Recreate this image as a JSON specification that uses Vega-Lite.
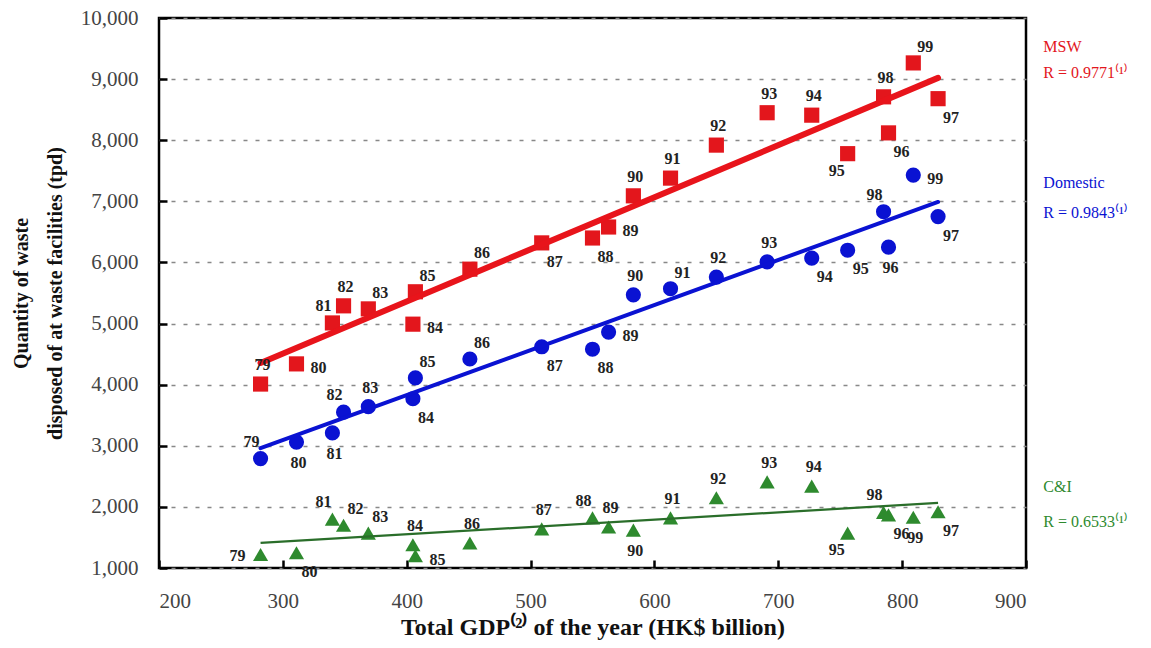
{
  "$schema": "https://vega.github.io/schema/vega-lite/v6.json",
  "width": 867,
  "height": 550,
  "autosize": "none",
  "padding": {"left": 159, "top": 18, "right": 125, "bottom": 80},
  "background": "white",
  "config": {
    "view": {"stroke": "black", "strokeWidth": 2.5},
    "font": "Liberation Serif"
  },
  "datasets": {
    "pts": [
      {"year": "79", "series": "MSW", "gdp": 282, "q": 4010, "pos": "t"},
      {"year": "80", "series": "MSW", "gdp": 311, "q": 4340, "pos": "r"},
      {"year": "81", "series": "MSW", "gdp": 340, "q": 5010, "pos": "tl"},
      {"year": "82", "series": "MSW", "gdp": 349, "q": 5290, "pos": "t"},
      {"year": "83", "series": "MSW", "gdp": 369, "q": 5240, "pos": "tr"},
      {"year": "84", "series": "MSW", "gdp": 405, "q": 4990, "pos": "r"},
      {"year": "85", "series": "MSW", "gdp": 407, "q": 5520, "pos": "tr"},
      {"year": "86", "series": "MSW", "gdp": 451, "q": 5890, "pos": "tr"},
      {"year": "87", "series": "MSW", "gdp": 509, "q": 6320, "pos": "br"},
      {"year": "88", "series": "MSW", "gdp": 550, "q": 6400, "pos": "br"},
      {"year": "89", "series": "MSW", "gdp": 563, "q": 6580, "pos": "r"},
      {"year": "90", "series": "MSW", "gdp": 583, "q": 7090, "pos": "t"},
      {"year": "91", "series": "MSW", "gdp": 613, "q": 7380, "pos": "t"},
      {"year": "92", "series": "MSW", "gdp": 650, "q": 7920, "pos": "t"},
      {"year": "93", "series": "MSW", "gdp": 691, "q": 8450, "pos": "t"},
      {"year": "94", "series": "MSW", "gdp": 727, "q": 8410, "pos": "t"},
      {"year": "95", "series": "MSW", "gdp": 756, "q": 7780, "pos": "bl"},
      {"year": "96", "series": "MSW", "gdp": 789, "q": 8120, "pos": "br"},
      {"year": "97", "series": "MSW", "gdp": 829, "q": 8680, "pos": "br"},
      {"year": "98", "series": "MSW", "gdp": 785, "q": 8710, "pos": "t"},
      {"year": "99", "series": "MSW", "gdp": 809, "q": 9265, "pos": "tr"},
      {"year": "79", "series": "Domestic", "gdp": 282, "q": 2790, "pos": "tl"},
      {"year": "80", "series": "Domestic", "gdp": 311, "q": 3060, "pos": "b"},
      {"year": "81", "series": "Domestic", "gdp": 340, "q": 3210, "pos": "b"},
      {"year": "82", "series": "Domestic", "gdp": 349, "q": 3550, "pos": "tl"},
      {"year": "83", "series": "Domestic", "gdp": 369, "q": 3640, "pos": "t"},
      {"year": "84", "series": "Domestic", "gdp": 405, "q": 3770, "pos": "br"},
      {"year": "85", "series": "Domestic", "gdp": 407, "q": 4110, "pos": "tr"},
      {"year": "86", "series": "Domestic", "gdp": 451, "q": 4420, "pos": "tr"},
      {"year": "87", "series": "Domestic", "gdp": 509, "q": 4620, "pos": "br"},
      {"year": "88", "series": "Domestic", "gdp": 550, "q": 4580, "pos": "br"},
      {"year": "89", "series": "Domestic", "gdp": 563, "q": 4860, "pos": "r"},
      {"year": "90", "series": "Domestic", "gdp": 583, "q": 5470, "pos": "t"},
      {"year": "91", "series": "Domestic", "gdp": 613, "q": 5570, "pos": "tr"},
      {"year": "92", "series": "Domestic", "gdp": 650, "q": 5760, "pos": "t"},
      {"year": "93", "series": "Domestic", "gdp": 691, "q": 6010, "pos": "t"},
      {"year": "94", "series": "Domestic", "gdp": 727, "q": 6070, "pos": "br"},
      {"year": "95", "series": "Domestic", "gdp": 756, "q": 6200, "pos": "br"},
      {"year": "96", "series": "Domestic", "gdp": 789, "q": 6250, "pos": "b"},
      {"year": "97", "series": "Domestic", "gdp": 829, "q": 6750, "pos": "br"},
      {"year": "98", "series": "Domestic", "gdp": 785, "q": 6830, "pos": "tl"},
      {"year": "99", "series": "Domestic", "gdp": 809, "q": 7430, "pos": "r"},
      {"year": "79", "series": "C&I", "gdp": 282, "q": 1220, "pos": "l"},
      {"year": "80", "series": "C&I", "gdp": 311, "q": 1250, "pos": "br"},
      {"year": "81", "series": "C&I", "gdp": 340, "q": 1800, "pos": "tl"},
      {"year": "82", "series": "C&I", "gdp": 349, "q": 1700, "pos": "tr"},
      {"year": "83", "series": "C&I", "gdp": 369, "q": 1570, "pos": "tr"},
      {"year": "84", "series": "C&I", "gdp": 405, "q": 1380, "pos": "t"},
      {"year": "85", "series": "C&I", "gdp": 407, "q": 1200, "pos": "r"},
      {"year": "86", "series": "C&I", "gdp": 451, "q": 1410, "pos": "t"},
      {"year": "87", "series": "C&I", "gdp": 509, "q": 1640, "pos": "t"},
      {"year": "88", "series": "C&I", "gdp": 550, "q": 1820, "pos": "tl"},
      {"year": "89", "series": "C&I", "gdp": 563, "q": 1670, "pos": "t"},
      {"year": "90", "series": "C&I", "gdp": 583, "q": 1620, "pos": "b"},
      {"year": "91", "series": "C&I", "gdp": 613, "q": 1820, "pos": "t"},
      {"year": "92", "series": "C&I", "gdp": 650, "q": 2150, "pos": "t"},
      {"year": "93", "series": "C&I", "gdp": 691, "q": 2410, "pos": "t"},
      {"year": "94", "series": "C&I", "gdp": 727, "q": 2340, "pos": "t"},
      {"year": "95", "series": "C&I", "gdp": 756, "q": 1570, "pos": "bl"},
      {"year": "96", "series": "C&I", "gdp": 789, "q": 1870, "pos": "br"},
      {"year": "97", "series": "C&I", "gdp": 829, "q": 1920, "pos": "br"},
      {"year": "98", "series": "C&I", "gdp": 785, "q": 1910, "pos": "tl"},
      {"year": "99", "series": "C&I", "gdp": 809, "q": 1830, "pos": "b"}
    ],
    "fit": [
      {"series": "MSW", "gdp": 282, "q": 4355},
      {"series": "MSW", "gdp": 829, "q": 9020},
      {"series": "Domestic", "gdp": 282, "q": 2960},
      {"series": "Domestic", "gdp": 829, "q": 6990},
      {"series": "C&I", "gdp": 282, "q": 1410},
      {"series": "C&I", "gdp": 829, "q": 2065}
    ],
    "notes": [
      {"text": "MSW", "series": "MSW", "gdp": 914, "q": 9530},
      {"text": "R = 0.9771⁽¹⁾", "series": "MSW", "gdp": 914, "q": 9100},
      {"text": "Domestic", "series": "Domestic", "gdp": 914, "q": 7300},
      {"text": "R = 0.9843⁽¹⁾", "series": "Domestic", "gdp": 914, "q": 6810},
      {"text": "C&I", "series": "C&I", "gdp": 914, "q": 2330},
      {"text": "R = 0.6533⁽¹⁾", "series": "C&I", "gdp": 914, "q": 1760}
    ]
  },
  "encoding": {
    "x": {
      "field": "gdp", "type": "quantitative",
      "scale": {"domain": [200, 900], "nice": false, "zero": false},
      "axis": {
        "values": [200, 300, 400, 500, 600, 700, 800, 900],
        "format": "d",
        "title": "Total GDP⁽²⁾ of the year (HK$ billion)",
        "titleFont": "Liberation Serif", "titleFontSize": 24, "titleFontWeight": "bold", "titleColor": "#111",
        "titlePadding": 4,
        "labelFont": "Liberation Serif", "labelFontSize": 21, "labelColor": "#444",
        "labelPadding": 30,
        "tickSize": -8, "tickWidth": 2.5, "tickColor": "black",
        "domain": false, "grid": false
      }
    },
    "y": {
      "field": "q", "type": "quantitative",
      "scale": {"domain": [1000, 10000], "nice": false, "zero": false},
      "axis": {
        "values": [1000, 2000, 3000, 4000, 5000, 6000, 7000, 8000, 9000, 10000],
        "format": ",d",
        "title": ["Quantity of waste", "disposed of at waste facilities (tpd)"],
        "titleFont": "Liberation Serif", "titleFontSize": 20, "titleFontWeight": "bold", "titleColor": "#111",
        "titleLineHeight": 34,
        "titlePadding": 15,
        "labelFont": "Liberation Serif", "labelFontSize": 21, "labelColor": "#444",
        "labelPadding": 29,
        "tickSize": -8, "tickWidth": 2.5, "tickColor": "black",
        "domain": false,
        "grid": true, "gridColor": "#888", "gridDash": [4, 8], "gridWidth": 1.3
      }
    }
  },
  "layer": [
    {
      "data": {"name": "pts"},
      "mark": {"type": "point", "filled": true, "opacity": 1, "size": 230},
      "encoding": {
        "shape": {"field": "series", "type": "nominal", "legend": null,
          "scale": {"domain": ["MSW", "Domestic", "C&I"], "range": ["square", "circle", "triangle-up"]}},
        "color": {"field": "series", "type": "nominal", "legend": null,
          "scale": {"domain": ["MSW", "Domestic", "C&I"], "range": ["#e3161c", "#0a12d2", "#2e8a2e"]}}
      }
    },
    {
      "data": {"name": "fit"},
      "transform": [{"filter": "datum.series === 'MSW'"}],
      "mark": {"type": "line", "color": "#e8141b", "strokeWidth": 6, "strokeCap": "round"},
      "encoding": {}
    },
    {
      "data": {"name": "fit"},
      "transform": [{"filter": "datum.series === 'Domestic'"}],
      "mark": {"type": "line", "color": "#0a12d2", "strokeWidth": 4, "strokeCap": "round"},
      "encoding": {}
    },
    {
      "data": {"name": "fit"},
      "transform": [{"filter": "datum.series === 'C&I'"}],
      "mark": {"type": "line", "color": "#2a6e2a", "strokeWidth": 2.2},
      "encoding": {}
    },
    {
      "data": {"name": "pts"},
      "transform": [{"filter": "datum.pos === 't'"}],
      "mark": {"type": "text", "font": "Liberation Serif", "fontWeight": "bold", "fontSize": 16, "color": "#222", "baseline": "middle", "dx": 2, "dy": -19},
      "encoding": {"text": {"field": "year"}}
    },
    {
      "data": {"name": "pts"},
      "transform": [{"filter": "datum.pos === 'tl'"}],
      "mark": {"type": "text", "font": "Liberation Serif", "fontWeight": "bold", "fontSize": 16, "color": "#222", "baseline": "middle", "dx": -9, "dy": -17},
      "encoding": {"text": {"field": "year"}}
    },
    {
      "data": {"name": "pts"},
      "transform": [{"filter": "datum.pos === 'tr'"}],
      "mark": {"type": "text", "font": "Liberation Serif", "fontWeight": "bold", "fontSize": 16, "color": "#222", "baseline": "middle", "dx": 12, "dy": -16},
      "encoding": {"text": {"field": "year"}}
    },
    {
      "data": {"name": "pts"},
      "transform": [{"filter": "datum.pos === 'b'"}],
      "mark": {"type": "text", "font": "Liberation Serif", "fontWeight": "bold", "fontSize": 16, "color": "#222", "baseline": "middle", "dx": 2, "dy": 21},
      "encoding": {"text": {"field": "year"}}
    },
    {
      "data": {"name": "pts"},
      "transform": [{"filter": "datum.pos === 'bl'"}],
      "mark": {"type": "text", "font": "Liberation Serif", "fontWeight": "bold", "fontSize": 16, "color": "#222", "baseline": "middle", "dx": -11, "dy": 17},
      "encoding": {"text": {"field": "year"}}
    },
    {
      "data": {"name": "pts"},
      "transform": [{"filter": "datum.pos === 'br'"}],
      "mark": {"type": "text", "font": "Liberation Serif", "fontWeight": "bold", "fontSize": 16, "color": "#222", "baseline": "middle", "dx": 13, "dy": 19},
      "encoding": {"text": {"field": "year"}}
    },
    {
      "data": {"name": "pts"},
      "transform": [{"filter": "datum.pos === 'r'"}],
      "mark": {"type": "text", "font": "Liberation Serif", "fontWeight": "bold", "fontSize": 16, "color": "#222", "baseline": "middle", "dx": 22, "dy": 4},
      "encoding": {"text": {"field": "year"}}
    },
    {
      "data": {"name": "pts"},
      "transform": [{"filter": "datum.pos === 'l'"}],
      "mark": {"type": "text", "font": "Liberation Serif", "fontWeight": "bold", "fontSize": 16, "color": "#222", "baseline": "middle", "dx": -23, "dy": 1},
      "encoding": {"text": {"field": "year"}}
    },
    {
      "data": {"name": "notes"},
      "mark": {"type": "text", "font": "Liberation Serif", "fontSize": 16, "align": "left", "baseline": "middle"},
      "encoding": {
        "text": {"field": "text"},
        "color": {"field": "series", "type": "nominal", "legend": null,
          "scale": {"domain": ["MSW", "Domestic", "C&I"], "range": ["#e3161c", "#0a12d2", "#2e8a2e"]}}
      }
    }
  ]
}
